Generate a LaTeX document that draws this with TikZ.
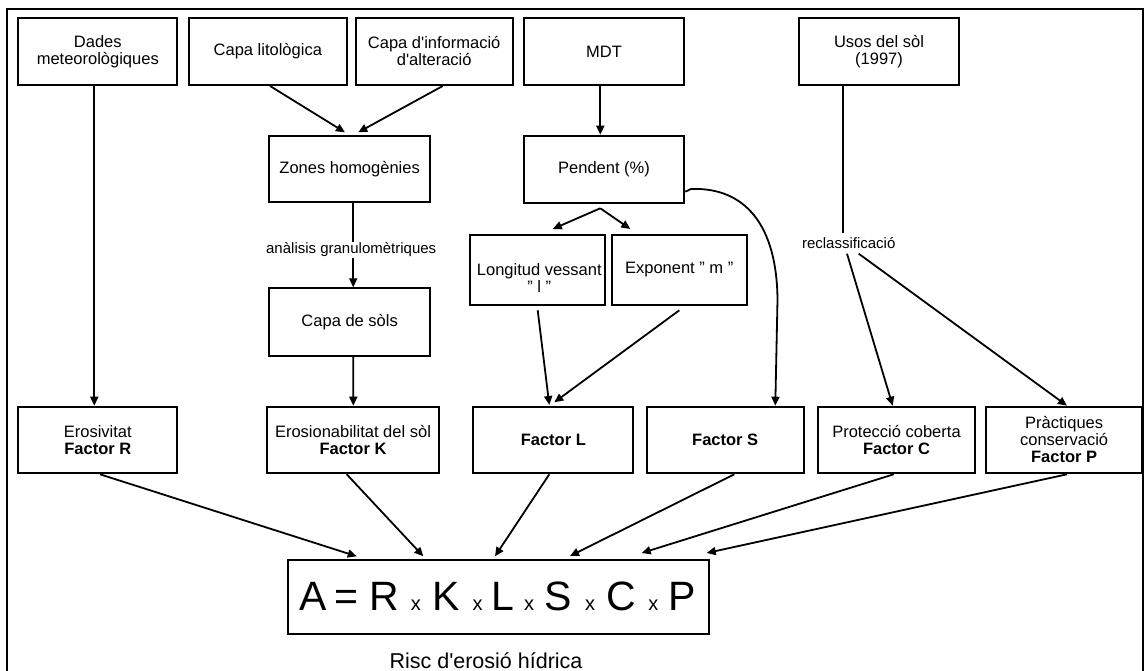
\documentclass[tikz,border=0pt]{standalone}
\usepackage{fontspec}
\setmainfont{Liberation Sans}
\usetikzlibrary{arrows.meta}
\newcommand{\boxfont}{\fontsize{16.5}{17}\selectfont}
\begin{document}
\begin{tikzpicture}[x=1pt,y=-1pt,
  box/.style={draw, line width=2pt, inner sep=0pt, align=center, font=\boxfont},
  link/.style={line width=1.8pt},
  arr/.style={link, -{Triangle[length=9pt,width=8pt]}},
  note/.style={inner sep=0.8pt, fill=white, font=\fontsize{15}{15}\selectfont},
  big/.style={anchor=base, inner sep=0pt, font=\fontsize{41}{41}\selectfont},
  small/.style={anchor=base, inner sep=0pt, font=\fontsize{20}{20}\selectfont},
]
\useasboundingbox (0,0) rectangle (1144,671);
\fill[white] (0,0) rectangle (1144,671);
% outer frame
\draw[line width=2pt] (7.3,700) -- (7.3,8.7) -- (1142.5,8.7) -- (1142.5,700);

% source layers
\node[box, minimum width=159pt,   minimum height=67.3pt] (dades) at (97.8,51.35)  {Dades\\meteorològiques};
\node[box, minimum width=157.7pt, minimum height=67.3pt] (lit)   at (267.85,51.35) {Capa litològica};
\node[box, minimum width=157pt,   minimum height=67.3pt] (info)  at (434.2,51.35) {Capa d\textquotesingle informació\\d\textquotesingle alteració};
\node[box, minimum width=160.6pt, minimum height=67.3pt] (mdt)   at (604,51.35)   {MDT};
\node[box, minimum width=160.6pt, minimum height=67.3pt] (usos)  at (879,51.35)   {Usos del sòl\\(1997)};

% intermediate layers
\node[box, minimum width=160.7pt, minimum height=66.6pt] (zones) at (349.65,169) {Zones homogènies};
\node[box, minimum width=160.7pt, minimum height=67.4pt] (sols)  at (349.65,322) {Capa de sòls};
\node[box, minimum width=160.6pt, minimum height=67pt]   (pend)  at (604,169.2)  {Pendent (\%)};
\node[box, minimum width=135pt,   minimum height=70pt]   (long)  at (537.8,270)  {};
\node[inner sep=0pt, align=center, font=\boxfont] (longtxt) at (539.3,278.3) {Longitud vessant\\" l "};
\node[box, minimum width=135pt,   minimum height=70pt]   (expo)  at (679.2,270)  {Exponent " m "};

% factors
\node[box, minimum width=159pt,   minimum height=66.6pt] (er) at (97.8,440)   {Erosivitat\\\textbf{Factor R}};
\node[box, minimum width=171.4pt, minimum height=66.6pt] (ek) at (353,440)    {Erosionabilitat del sòl\\\textbf{Factor K}};
\node[box, minimum width=160pt,   minimum height=66.6pt] (fl) at (553.3,440)  {\textbf{Factor L}};
\node[box, minimum width=157pt,   minimum height=66.6pt] (fs) at (725.2,440)  {\textbf{Factor S}};
\node[box, minimum width=157.6pt, minimum height=66.6pt] (pc) at (896.5,440)  {Protecció coberta\\\textbf{Factor C}};
\node[box, minimum width=155.7pt, minimum height=66.6pt] (pp) at (1064.15,440) {Pràctiques\\conservació\\\textbf{Factor P}};

% equation box
\node[draw, line width=2pt, minimum width=421pt, minimum height=74pt, inner sep=0pt] (fbox) at (498.8,597) {};
\foreach \g/\xx [count=\i] in {A/313.3, =/346, R/384.2, K/445.8, L/502.5, S/558.3, C/620.8, P/681.7}
  \node[big] (eq\i) at (\xx,610) {\g};
\foreach \xx [count=\i] in {415.8, 477.5, 529.2, 590, 653.3}
  \node[small] (times\i) at (\xx,610) {x};
\node[anchor=base, inner sep=0pt, font=\fontsize{21.5}{22}\selectfont] (risc) at (486,668) {Risc d\textquotesingle erosió hídrica};

% connectors: upper part
\draw[arr] ([xshift=-3.5pt]dades.south) -- ([xshift=-3.5pt]er.north);
\draw[arr] ([xshift=2.2pt]lit.south) -- ([xshift=-4.7pt,yshift=2.4pt]zones.north);
\draw[arr] ([xshift=8.5pt]info.south) -- ([xshift=8.6pt,yshift=2.4pt]zones.north);
\draw[arr] ([xshift=3.6pt]zones.south) -- ([xshift=3.6pt]sols.north);
\node[note] (gran) at (351.2,250) {anàlisis granulomètriques};
\draw[arr] ([xshift=3.6pt]sols.south) -- ([xshift=0.3pt]ek.north);

\draw[arr] ([xshift=-3.7pt]mdt.south) -- ([xshift=-3.7pt]pend.north);
\coordinate (split) at ([xshift=-3.7pt,yshift=-4.6pt]pend.south);
\draw[arr] (split) -- ([xshift=14.9pt,yshift=5pt]long.north);
\draw[arr] (split) -- ([xshift=-48.9pt,yshift=5pt]expo.north);
\draw[arr] ([xshift=-0.1pt,yshift=-4.3pt]long.south) -- ([xshift=-4pt,yshift=0.7pt]fl.north);
\draw[arr] ([xshift=0.1pt,yshift=-4.3pt]expo.south) -- ([xshift=1pt,yshift=3.4pt]fl.north);
\draw[arr] ([yshift=-22.5pt]pend.east) -- (691,189)
  .. controls (745,187) and (777,225) .. (777.5,300) -- ([xshift=50.1pt]fs.north);

\node[inner sep=0pt, minimum height=20pt, font=\fontsize{15}{15}\selectfont] (recl) at (848.7,243.5) {reclassificació};
\draw[link] ([xshift=-36pt]usos.south) -- ([xshift=-5.7pt]recl.north);
\draw[arr] ([xshift=-1.7pt]recl.south) -- ([xshift=-3.8pt]pc.north);
\draw[arr] ([xshift=10pt]recl.south) -- ([xshift=2.8pt]pp.north);

% connectors: factors into the equation
\draw[arr] ([xshift=2.2pt]er.south)  -- ([xshift=-142.1pt,yshift=2.7pt]fbox.north);
\draw[arr] ([xshift=-6.3pt]ek.south) -- ([xshift=-75.5pt,yshift=2.7pt]fbox.north);
\draw[arr] ([xshift=-4pt]fl.south)   -- ([xshift=-3.8pt,yshift=2.7pt]fbox.north);
\draw[arr] ([xshift=9.1pt]fs.south)  -- ([xshift=71.2pt,yshift=3pt]fbox.north);
\draw[arr] ([xshift=-2.8pt]pc.south) -- ([xshift=142.9pt,yshift=6pt]fbox.north);
\draw[arr] ([xshift=2.8pt]pp.south)  -- ([xshift=207.9pt,yshift=6pt]fbox.north);
\end{tikzpicture}
\end{document}
